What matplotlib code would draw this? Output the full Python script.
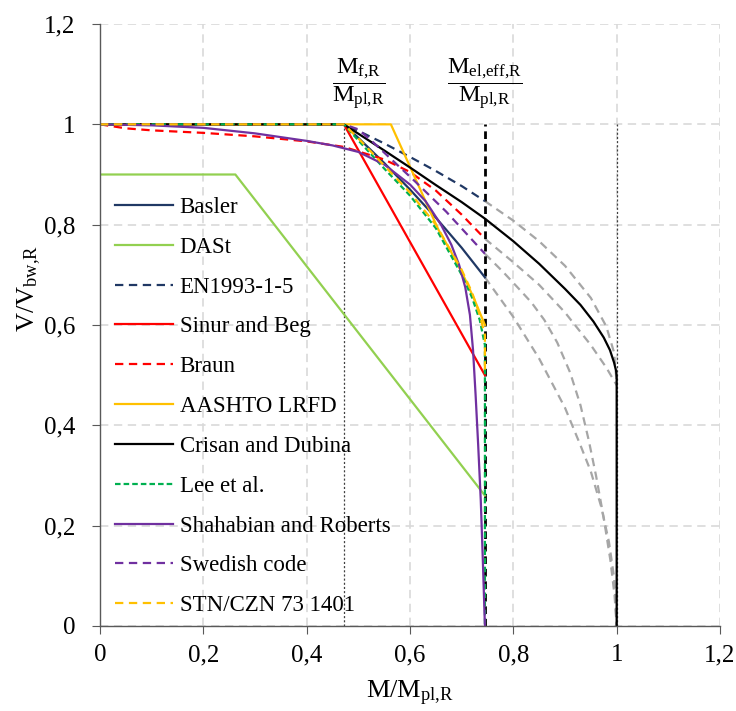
import matplotlib
matplotlib.use('Agg')
import matplotlib.pyplot as plt

plt.rcParams['font.family'] = ['Liberation Serif', 'DejaVu Serif']
plt.rcParams['mathtext.fontset'] = 'custom'
plt.rcParams['mathtext.rm'] = 'Liberation Serif'
plt.rcParams['mathtext.it'] = 'Liberation Serif:italic'
plt.rcParams['lines.scale_dashes'] = False

# reference abscissae
mf = 0.472
mel = 0.745

# curves (x = M/Mpl,R, y = V/Vbw,R)
basler_x = [0, 0.472, 0.5, 0.55, 0.6, 0.65, 0.7, 0.745]
basler_y = [1.0, 1.0, 0.973, 0.923, 0.870, 0.814, 0.754, 0.695]
basler_ext_x = [0.745, 0.8, 0.85, 0.9, 0.93, 0.95, 0.97, 0.985, 0.995, 1.0]
basler_ext_y = [0.695, 0.616, 0.533, 0.435, 0.36, 0.308, 0.238, 0.168, 0.097, 0.0]

dast_x = [0, 0.262, 0.745]
dast_y = [0.9, 0.9, 0.26]

en_x = [0, 0.472, 0.5, 0.55, 0.6, 0.65, 0.7, 0.745]
en_y = [1.0, 1.0, 0.987, 0.962, 0.935, 0.907, 0.877, 0.847]
en_ext_x = [0.745, 0.8, 0.85, 0.9, 0.95, 0.98, 0.995, 1.0]
en_ext_y = [0.847, 0.808, 0.767, 0.718, 0.654, 0.597, 0.545, 0.485]

sinur_x = [0, 0.472, 0.745]
sinur_y = [1.0, 1.0, 0.5]

braun_x = [0, 0.05, 0.1, 0.2, 0.3, 0.4, 0.472, 0.55, 0.6, 0.65, 0.7, 0.745]
braun_y = [1.0, 0.992, 0.988, 0.983, 0.976, 0.966, 0.955, 0.93, 0.905, 0.868, 0.82, 0.772]
braun_ext_x = [0.745, 0.8, 0.85, 0.9, 0.95, 0.98, 1.0]
braun_ext_y = [0.772, 0.725, 0.68, 0.625, 0.56, 0.515, 0.48]

aashto_x = [0, 0.563, 0.655, 0.68, 0.705, 0.725, 0.745]
aashto_y = [1.0, 1.0, 0.79, 0.745, 0.695, 0.65, 0.60]

crisan_x = [0, 0.472, 0.55, 0.6, 0.65, 0.7, 0.745, 0.8, 0.85, 0.9, 0.93, 0.955, 0.975, 0.987, 0.995, 0.999, 1.0, 1.0]
crisan_y = [1.0, 1.0, 0.948, 0.914, 0.879, 0.845, 0.812, 0.767, 0.722, 0.672, 0.64, 0.607, 0.575, 0.55, 0.525, 0.508, 0.496, 0.0]

lee_x = [0, 0.472, 0.5, 0.55, 0.6, 0.65, 0.7, 0.72, 0.735, 0.745, 0.745]
lee_y = [1.0, 1.0, 0.968, 0.912, 0.858, 0.793, 0.70, 0.655, 0.61, 0.56, 0.0]

shah_x = [0, 0.1, 0.2, 0.3, 0.4, 0.45, 0.5, 0.55, 0.6, 0.63, 0.66, 0.68, 0.695, 0.707, 0.716, 0.722, 0.727, 0.732, 0.737, 0.741, 0.745]
shah_y = [1.0, 0.998, 0.993, 0.982, 0.967, 0.958, 0.945, 0.92, 0.88, 0.847, 0.80, 0.76, 0.72, 0.675, 0.62, 0.55, 0.46, 0.36, 0.25, 0.13, 0.0]

swed_x = [0, 0.472, 0.5, 0.53, 0.56, 0.61, 0.67, 0.745]
swed_y = [1.0, 1.0, 0.99, 0.963, 0.934, 0.886, 0.826, 0.742]
swed_ext_x = [0.745, 0.78, 0.81, 0.835, 0.86, 0.885, 0.91, 0.93, 0.946, 0.96, 0.975, 0.988, 0.996, 1.0]
swed_ext_y = [0.742, 0.706, 0.673, 0.645, 0.61, 0.565, 0.505, 0.44, 0.37, 0.30, 0.215, 0.13, 0.06, 0.0]

stn_x = [0, 0.472, 0.5, 0.55, 0.6, 0.65, 0.7, 0.72, 0.735, 0.745, 0.745]
stn_y = [1.0, 1.0, 0.972, 0.918, 0.864, 0.80, 0.71, 0.665, 0.62, 0.58, 0.5]

grey = '#A6A6A6'
navy = '#203864'
purple = '#7030A0'
yellow = '#FFC000'
lw = 1.6

fig = plt.figure(figsize=(7.36, 7.11), dpi=100)
ax = fig.add_axes([100 / 736, 1 - 626 / 711, 620 / 736, 602 / 711])

# grey extensions beyond Mel,eff
for xs, ys in [(basler_ext_x, basler_ext_y), (en_ext_x, en_ext_y),
               (braun_ext_x, braun_ext_y), (swed_ext_x, swed_ext_y)]:
    ax.plot(xs, ys, color=grey, lw=lw, ls=(0, (6, 4)))

# reference lines
ax.plot([mf, mf], [0, 1.0], color='#404040', lw=0.9, ls=(0, (1.5, 1.5)))
ax.plot([1.0, 1.0], [0, 1.0], color='#404040', lw=0.9, ls=(0, (1.5, 1.5)))
ax.plot([mel, mel], [0, 1.0], color='black', lw=2.0, ls=(0, (5.5, 3.5)))

ax.plot(basler_x, basler_y, color=navy, lw=lw, label='Basler')
ax.plot(dast_x, dast_y, color='#92D050', lw=lw, label='DASt')
ax.plot(en_x, en_y, color=navy, lw=lw, ls=(0, (6, 4)), label='EN1993-1-5')
ax.plot(sinur_x, sinur_y, color='#FF0000', lw=lw, label='Sinur and Beg')
ax.plot(braun_x, braun_y, color='#FF0000', lw=lw, ls=(0, (6, 4)), label='Braun')
ax.plot(aashto_x, aashto_y, color=yellow, lw=lw, label='AASHTO LRFD')
ax.plot(crisan_x, crisan_y, color='black', lw=lw, label='Crisan and Dubina')
ax.plot(lee_x, lee_y, color='#00B050', lw=lw, ls=(0, (4, 2.2)), label='Lee et al.')
ax.plot(shah_x, shah_y, color=purple, lw=lw, label='Shahabian and Roberts')
ax.plot(swed_x, swed_y, color=purple, lw=lw, ls=(0, (6, 4)), label='Swedish code')
ax.plot(stn_x, stn_y, color=yellow, lw=lw, ls=(0, (6, 4)), label='STN/CZN 73 1401')

ax.set_xlim(0, 1.2)
ax.set_ylim(0, 1.2)
ticks = [0, 0.2, 0.4, 0.6, 0.8, 1.0, 1.2]
tick_labels = ['0', '0,2', '0,4', '0,6', '0,8', '1', '1,2']
ax.set_xticks(ticks)
ax.set_xticklabels(tick_labels)
ax.set_yticks(ticks)
ax.set_yticklabels(tick_labels)
ax.tick_params(labelsize=18, direction='out', length=6, color='#595959')
ax.tick_params(axis='x', pad=7)
ax.tick_params(axis='y', pad=12)
ax.grid(True, color='#D9D9D9', ls=(0, (6, 4)), lw=1.2)
ax.set_axisbelow(True)
for s in ['top', 'right']:
    ax.spines[s].set_visible(False)
for s in ['left', 'bottom']:
    ax.spines[s].set_color('#595959')
    ax.spines[s].set_linewidth(1.0)

ax.set_xlabel(r'$\mathrm{M/M_{pl{,}R}}$', fontsize=19, labelpad=9)
ax.set_ylabel(r'$\mathrm{V/V_{bw{,}R}}$', fontsize=19)
ax.yaxis.set_label_coords(-0.092, 0.56)

ax.text(0.5, 1.079, r'$\mathrm{\dfrac{M_{f{,}R}}{M_{pl{,}R}}}$', fontsize=17.5, ha='center', va='center')
ax.text(0.744, 1.079, r'$\mathrm{\dfrac{M_{el{,}eff{,}R}}{M_{pl{,}R}}}$', fontsize=17.5, ha='center', va='center')

ax.legend(loc='upper left', bbox_to_anchor=(0.01, 0.728), frameon=False, fontsize=16.5,
          handlelength=2.5, labelspacing=0.82, handletextpad=0.3, borderaxespad=0)

fig.savefig('out.png', dpi=100)
